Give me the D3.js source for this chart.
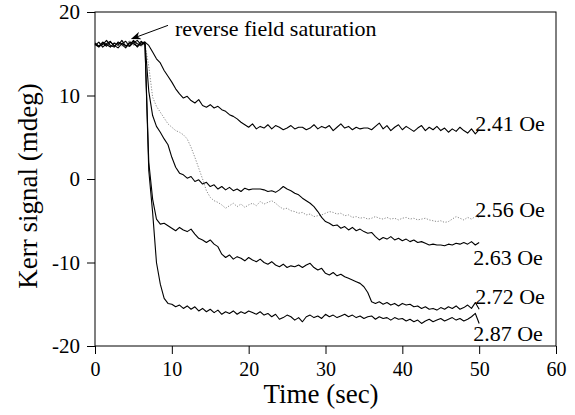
<!DOCTYPE html>
<html><head><meta charset="utf-8">
<script src="https://cdn.jsdelivr.net/npm/d3@7"></script>
<style>body{margin:0;background:#fff} svg{display:block}</style>
</head><body><svg id="c" width="575" height="415"></svg>
<script>
// ---- data ----
const time = d3.range(0, 50.001, 0.5); // sample grid, seconds
const fieldLabels = ["2.41 Oe", "2.56 Oe", "2.63 Oe", "2.72 Oe", "2.87 Oe"];
const xTicks = [0, 10, 20, 30, 40, 50, 60];
const yTicks = [-20, -10, 0, 10, 20];
const s241 = [
 16.1,15.8,16.3,15.9,16.4,16.0,15.7,16.2,16.5,15.9,
 16.3,16.6,16.1,16.4,16.0,15.2,14.4,13.9,13.0,12.3,
 11.6,10.8,10.2,9.7,9.9,9.4,9.1,9.5,8.8,8.6,
 8.9,8.5,8.7,8.3,8.1,7.7,7.5,7.2,6.8,6.5,
 6.2,6.6,6.0,6.3,6.1,6.5,6.0,6.4,6.2,5.9,
 6.1,6.4,6.0,6.2,6.2,5.9,6.1,6.5,6.0,6.3,
 6.1,6.4,5.8,6.2,6.6,6.1,6.3,5.9,6.2,6.0,
 6.1,6.1,5.9,6.3,6.7,6.0,6.4,5.8,6.2,6.5,
 5.9,6.3,6.0,5.7,6.1,6.4,5.8,6.2,5.9,6.3,
 5.8,6.1,5.6,6.0,5.7,6.2,5.8,5.5,6.0,5.4,
 5.9];
const s256 = [
 15.9,16.3,16.0,16.5,15.8,16.2,16.4,15.9,16.1,16.6,
 16.0,16.3,15.8,16.2,13.5,9.8,8.7,8.0,7.3,6.6,
 6.2,5.8,5.6,5.3,4.8,3.8,2.6,1.3,0.0,-1.4,
 -2.2,-2.6,-2.8,-3.1,-3.5,-3.2,-2.9,-3.3,-3.0,-3.4,
 -3.1,-2.9,-3.2,-2.7,-3.0,-2.8,-2.6,-2.9,-3.3,-3.6,
 -3.5,-3.8,-3.9,-4.1,-4.0,-4.3,-4.2,-4.5,-4.4,-4.3,
 -4.1,-3.9,-4.0,-4.2,-4.1,-4.4,-4.3,-4.6,-4.5,-4.7,
 -4.6,-4.8,-4.7,-4.5,-4.7,-4.8,-4.6,-4.8,-4.7,-4.9,
 -4.7,-4.6,-4.8,-4.7,-4.9,-4.8,-4.7,-4.9,-5.0,-5.1,
 -5.0,-5.2,-5.1,-4.8,-4.5,-4.7,-4.9,-4.6,-4.8,-4.5,
 -4.6];
const s263 = [
 16.2,15.9,16.4,16.1,15.8,16.3,16.0,16.6,15.9,16.2,
 16.5,15.8,16.3,16.4,10.5,7.6,6.3,5.6,4.8,4.1,
 2.6,1.4,0.7,0.5,0.1,0.3,-0.3,-0.1,-0.6,-0.4,
 -0.9,-0.7,-1.2,-0.9,-1.3,-1.0,-1.4,-1.2,-1.5,-1.1,
 -1.3,-1.2,-1.2,-1.2,-1.3,-1.5,-1.4,-1.6,-1.3,-0.9,
 -1.2,-1.4,-1.7,-1.9,-2.3,-2.6,-2.9,-3.3,-3.9,-4.6,
 -5.1,-5.3,-5.6,-5.5,-5.9,-5.7,-6.1,-5.8,-6.2,-6.0,
 -6.3,-6.5,-6.4,-6.9,-7.3,-7.0,-7.2,-6.9,-7.3,-7.1,
 -7.4,-7.2,-7.5,-7.3,-7.6,-7.5,-7.7,-7.9,-7.8,-7.9,
 -7.9,-8.0,-7.8,-7.9,-7.7,-7.8,-7.6,-7.8,-7.5,-7.9,
 -7.6];
const s272 = [
 16.0,16.4,15.8,16.2,16.5,15.9,16.3,16.1,15.7,16.4,
 16.2,15.9,16.5,16.1,2.0,-2.4,-4.8,-5.4,-5.3,-5.6,
 -5.9,-6.2,-5.8,-6.1,-6.3,-6.0,-6.6,-7.1,-7.3,-7.6,
 -7.3,-7.8,-8.1,-9.0,-9.4,-9.1,-9.6,-9.3,-9.5,-9.8,
 -9.4,-9.7,-9.9,-9.6,-10.0,-10.2,-9.9,-10.3,-10.5,-10.2,
 -10.6,-10.4,-10.5,-10.3,-10.6,-10.3,-10.1,-10.6,-10.9,-10.7,
 -11.3,-11.5,-11.2,-11.6,-11.4,-11.7,-11.9,-12.1,-12.3,-12.5,
 -12.9,-13.6,-14.7,-14.9,-14.7,-15.0,-14.8,-15.1,-14.9,-15.2,
 -14.9,-15.1,-15.0,-15.3,-15.2,-15.5,-15.3,-15.6,-15.5,-15.7,
 -15.4,-15.6,-15.3,-15.5,-15.2,-15.6,-15.4,-15.1,-15.5,-14.8,
 -15.6];
const s287 = [
 16.3,15.9,16.1,16.6,16.0,15.8,16.4,16.2,16.0,15.9,
 16.6,16.2,16.0,16.3,1.0,-4.0,-10.0,-12.6,-14.3,-14.9,
 -15.0,-15.3,-15.1,-15.5,-15.2,-15.6,-15.3,-15.8,-15.5,-15.9,
 -15.6,-16.0,-15.7,-16.2,-15.9,-16.1,-15.8,-16.2,-15.9,-16.1,
 -15.8,-16.0,-16.2,-15.9,-16.3,-16.1,-16.5,-16.2,-16.8,-16.6,
 -16.3,-16.5,-16.9,-16.6,-17.1,-16.5,-16.3,-16.6,-16.4,-16.7,
 -16.2,-16.5,-16.3,-16.6,-16.4,-16.2,-16.5,-16.3,-16.6,-16.4,
 -16.7,-16.5,-16.4,-16.8,-16.5,-16.7,-16.6,-16.9,-16.6,-16.8,
 -16.7,-17.0,-16.8,-17.1,-16.9,-17.3,-17.0,-16.8,-17.1,-16.9,
 -16.7,-17.0,-16.8,-16.6,-16.9,-16.7,-17.0,-16.8,-16.5,-16.1,
 -17.3];
const seriesValues = [s241, s256, s263, s272, s287];
const annotationText = "reverse field saturation";

// ---- layout / style ----
const FONT = "'Liberation Serif'";
const svg = d3.select("#c").attr("font-family", FONT);
const x = d3.scaleLinear().domain([0, 60]).range([95, 556]);
const y = d3.scaleLinear().domain([-20, 20]).range([346, 12]);
const styles = [
  {stroke: "#000", width: 1.1, dash: null},
  {stroke: "#8a8a8a", width: 1, dash: "1.2,1.6"},
  {stroke: "#000", width: 1.1, dash: null},
  {stroke: "#000", width: 1.1, dash: null},
  {stroke: "#000", width: 1.1, dash: null}
];
const labelOffsets = [[-4, 1], [-4, 0], [-6, 23], [-4, -5], [-6, 18]];

// frame
svg.append("rect").attr("x", x(0)).attr("y", y(20))
  .attr("width", x(60) - x(0)).attr("height", y(-20) - y(20))
  .attr("fill", "none").attr("stroke", "#000").attr("stroke-width", 1);

// axes
const gy = svg.append("g").attr("transform", `translate(${x(0)},0)`)
  .call(d3.axisLeft(y).tickValues(yTicks).tickSize(8).tickPadding(7).tickFormat(d => String(d)));
const gx = svg.append("g").attr("transform", `translate(0,${y(-20)})`)
  .call(d3.axisBottom(x).tickValues(xTicks).tickSize(8).tickPadding(8).tickFormat(d => String(d)));
[gx, gy].forEach(g => {
  g.attr("font-family", FONT);
  g.select(".domain").remove();
  g.selectAll("line").attr("stroke", "#000");
  g.selectAll("text").attr("fill", "#000").attr("font-family", FONT);
});
gy.attr("font-size", 21);
gx.attr("font-size", 20);

// lines
const line = d3.line().x((d, i) => x(time[i])).y(d => y(d));
seriesValues.forEach((vals, k) => {
  const st = styles[k];
  svg.append("path").datum(vals).attr("d", line)
    .attr("fill", "none").attr("stroke", st.stroke).attr("stroke-width", st.width)
    .attr("stroke-linejoin", "round")
    .attr("stroke-dasharray", st.dash);
  const lastV = vals[vals.length - 1], lastT = time[vals.length - 1];
  svg.append("text").attr("x", x(lastT) + labelOffsets[k][0]).attr("y", y(lastV) + labelOffsets[k][1])
    .attr("font-family", FONT).attr("font-size", 22).attr("fill", "#000")
    .text(fieldLabels[k]);
});

// axis titles
svg.append("text").attr("transform", "translate(37,186) rotate(-90)")
  .attr("text-anchor", "middle").attr("font-family", FONT).attr("font-size", 27)
  .text("Kerr signal (mdeg)");
svg.append("text").attr("x", 321).attr("y", 403)
  .attr("text-anchor", "middle").attr("font-family", FONT).attr("font-size", 27)
  .text("Time (sec)");

// annotation
svg.append("defs").append("marker").attr("id", "ah")
  .attr("viewBox", "0 0 10 8").attr("refX", 9).attr("refY", 4)
  .attr("markerWidth", 11).attr("markerHeight", 8).attr("markerUnits", "userSpaceOnUse")
  .attr("orient", "auto")
  .append("path").attr("d", "M0,0 L10,4 L0,8 L3,4 z").attr("fill", "#000");
svg.append("line").attr("x1", x(9.5)).attr("y1", y(18.4)).attr("x2", x(4.8)).attr("y2", y(16.8))
  .attr("stroke", "#000").attr("stroke-width", 1).attr("marker-end", "url(#ah)");
svg.append("text").attr("x", 175).attr("y", 36)
  .attr("font-family", FONT).attr("font-size", 22).text(annotationText);
</script></body></html>
